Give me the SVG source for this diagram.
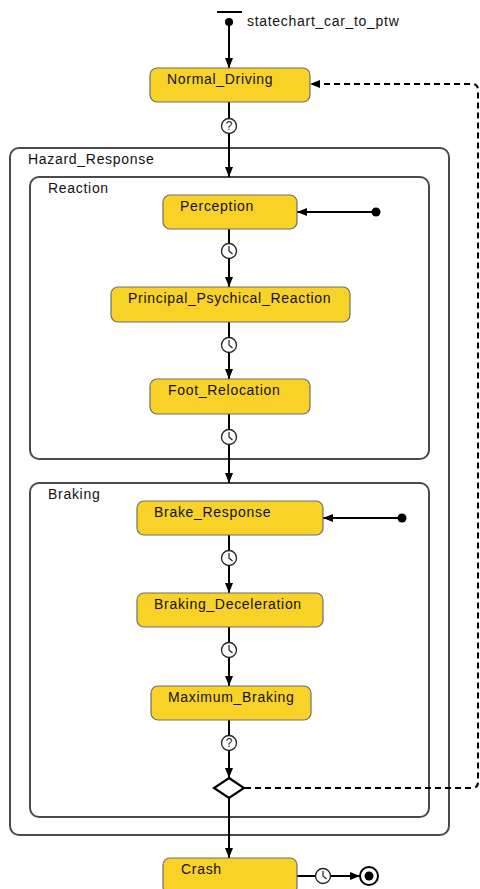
<svg xmlns="http://www.w3.org/2000/svg" width="480" height="889" viewBox="0 0 480 889">
<style>
.st{fill:#F9D227;stroke:#6e6e6e;stroke-width:1.2}
.lbl{font-family:"Liberation Sans",Arial,sans-serif;font-size:14px;letter-spacing:0.7px;fill:#111}
.reg{fill:none;stroke:#4a4a4a;stroke-width:2}
.ln{fill:none;stroke:#000;stroke-width:2}
.dash{fill:none;stroke:#000;stroke-width:2;stroke-dasharray:6 4}
.ic{fill:#fff;stroke:#222;stroke-width:1.3}
.q{font-family:"Liberation Sans",Arial,sans-serif;font-size:12px;fill:#222;text-anchor:middle}
</style>
<defs>
<marker id="ah" markerWidth="10" markerHeight="8" refX="10" refY="4" orient="auto" markerUnits="userSpaceOnUse">
<path d="M0,0 L10,4 L0,8 Z" fill="#000"/>
</marker>
<g id="clock"><circle r="7.5" class="ic"/><path d="M0,-5 L0,0 L3.5,3" fill="none" stroke="#222" stroke-width="1.2"/></g>
<g id="quest"><circle r="7.5" class="ic"/><text y="4.2" class="q">?</text></g>
</defs>

<g id="regions">
<g id="Hazard_Response"><rect x="10" y="148" width="439" height="687" rx="9" class="reg"/><text x="28" y="164" class="lbl">Hazard_Response</text></g>
<g id="Reaction"><rect x="30" y="177" width="399" height="282" rx="9" class="reg"/><text x="48" y="193" class="lbl">Reaction</text></g>
<g id="Braking"><rect x="30" y="483" width="399" height="334" rx="9" class="reg"/><text x="48" y="499" class="lbl">Braking</text></g>
</g>

<g id="connectors">
<path d="M229,22 V68" class="ln" marker-end="url(#ah)"/>
<path d="M229,102 V177" class="ln" marker-end="url(#ah)"/>
<path d="M229,229 V287" class="ln" marker-end="url(#ah)"/>
<path d="M229,322 V379" class="ln" marker-end="url(#ah)"/>
<path d="M229,414 V483" class="ln" marker-end="url(#ah)"/>
<path d="M229,535 V593" class="ln" marker-end="url(#ah)"/>
<path d="M229,627 V686" class="ln" marker-end="url(#ah)"/>
<path d="M229,720 V778" class="ln" marker-end="url(#ah)"/>
<path d="M229,798 V858" class="ln" marker-end="url(#ah)"/>
<path d="M376,212 H297" class="ln" marker-end="url(#ah)"/>
<path d="M402,518 H323" class="ln" marker-end="url(#ah)"/>
<path d="M297,876 H360" class="ln" marker-end="url(#ah)"/>
<path d="M245,788 H472 Q478,788 478,782 V90 Q478,84 472,84 H310" class="dash" marker-end="url(#ah)"/>
<use href="#quest" x="229" y="126"/>
<use href="#clock" x="229" y="251"/>
<use href="#clock" x="229" y="345"/>
<use href="#clock" x="229" y="437"/>
<use href="#clock" x="229" y="558"/>
<use href="#clock" x="229" y="650"/>
<use href="#quest" x="229" y="743"/>
<use href="#clock" x="323" y="876"/>
</g>

<g id="start">
<rect x="217" y="11" width="25" height="2" fill="#000"/>
<circle cx="229" cy="22" r="4" fill="#000"/>
<text x="247" y="26" class="lbl">statechart_car_to_ptw</text>
</g>
<g id="Normal_Driving"><rect x="150" y="68" width="160" height="34" rx="7" class="st"/><text x="167" y="84" class="lbl">Normal_Driving</text></g>
<g id="Perception_init"><circle cx="376" cy="212" r="4.5" fill="#000"/></g>
<g id="Perception"><rect x="163" y="195" width="134" height="34" rx="7" class="st"/><text x="180" y="211" class="lbl">Perception</text></g>
<g id="Principal_Psychical_Reaction"><rect x="111" y="287" width="239" height="35" rx="7" class="st"/><text x="128" y="303" class="lbl">Principal_Psychical_Reaction</text></g>
<g id="Foot_Relocation"><rect x="150" y="379" width="160" height="35" rx="7" class="st"/><text x="168" y="395" class="lbl">Foot_Relocation</text></g>
<g id="Brake_init"><circle cx="402" cy="518" r="4.5" fill="#000"/></g>
<g id="Brake_Response"><rect x="137" y="501" width="186" height="34" rx="7" class="st"/><text x="154" y="517" class="lbl">Brake_Response</text></g>
<g id="Braking_Deceleration"><rect x="137" y="593" width="186" height="34" rx="7" class="st"/><text x="154" y="609" class="lbl">Braking_Deceleration</text></g>
<g id="Maximum_Braking"><rect x="151" y="686" width="160" height="34" rx="7" class="st"/><text x="168" y="702" class="lbl">Maximum_Braking</text></g>
<g id="choice"><path d="M229,778 L244,788 L229,798 L214,788 Z" fill="#fff" stroke="#000" stroke-width="2.2"/></g>
<g id="Crash"><rect x="163" y="858" width="134" height="36" rx="7" class="st"/><text x="181" y="874" class="lbl">Crash</text></g>
<g id="final"><circle cx="369" cy="876" r="9" fill="#fff" stroke="#000" stroke-width="2"/><circle cx="369" cy="876" r="4.5" fill="#000"/></g>
</svg>
